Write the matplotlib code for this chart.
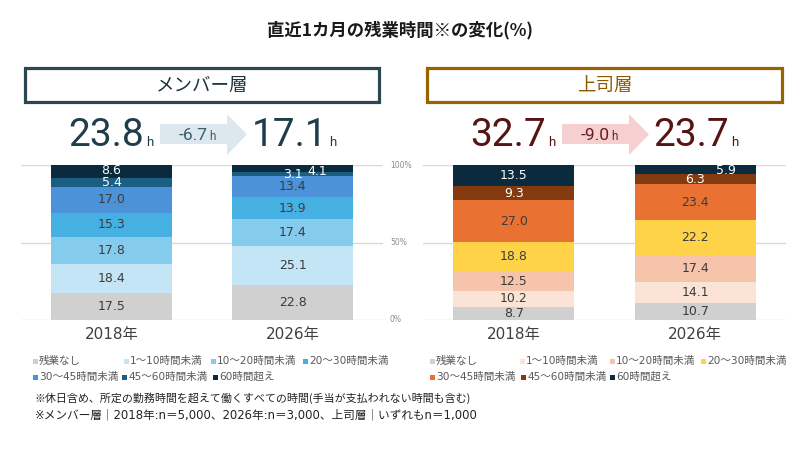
import numpy as np
import matplotlib.pyplot as plt
from matplotlib.patches import Polygon, Rectangle

plt.rcParams['font.family'] = ['Noto Sans CJK JP', 'DejaVu Sans']
WIDE = ['DejaVu Sans', 'Noto Sans CJK JP']  # wider digits, CJK falls back

## DATA
title = '直近1カ月の残業時間※の変化(%)'
years = ['2018年', '2026年']
categories = ['残業なし', '1～10時間未満', '10～20時間未満', '20～30時間未満',
              '30～45時間未満', '45～60時間未満', '60時間超え']

member_name = 'メンバー層'
member_vals = {
    '2018年': [17.5, 18.4, 17.8, 15.3, 17.0, 5.4, 8.6],
    '2026年': [22.8, 25.1, 17.4, 13.9, 13.4, 3.1, 4.1],
}
member_avg = [23.8, 17.1]
member_diff = -6.7

boss_name = '上司層'
boss_vals = {
    '2018年': [8.7, 10.2, 12.5, 18.8, 27.0, 9.3, 13.5],
    '2026年': [10.7, 14.1, 17.4, 22.2, 23.4, 6.3, 5.9],
}
boss_avg = [32.7, 23.7]
boss_diff = -9.0

pct_ticks = [0, 50, 100]
notes = ['※休日含め、所定の勤務時間を超えて働くすべての時間(手当が支払われない時間も含む)',
         '※メンバー層｜2018年:n＝5,000、2026年:n＝3,000、上司層｜いずれもn＝1,000']

## STYLE
member_colors = ['#d0d0d0', '#c4e5f5', '#84cbec', '#45b0e1', '#4b92d8', '#1a5e82', '#0c2a3d']
boss_colors = ['#d0d0d0', '#fbe3d6', '#f6c4aa', '#ffd347', '#e97132', '#843a0f', '#0c2a3d']
light_text = [False, False, False, False, False, True, True]
W, H = 800, 458


def fx(px):
    return px / W


def fy(py):
    return 1 - py / H


fig = plt.figure(figsize=(8, 4.58), dpi=100)
fig.patch.set_facecolor('white')

fig.text(fx(400), fy(30), title, ha='center', va='center', fontsize=12.5,
         fontweight='bold', color='#1a1a1a')


def panel(x0, x1, name, vals, colors, avg, diff, edge, name_col, num_col,
          arrow_col, arrow_txt, legend_x, offsets):
    # header box
    fig.patches.append(Rectangle((fx(x0 + 4), fy(101.5)), fx(x1 - x0 - 8), fy(68) - fy(101.5),
                                 transform=fig.transFigure, fill=False, edgecolor=edge, lw=2.3))
    fig.text(fx((x0 + x1) / 2), fy(86), name, ha='center', va='center', fontsize=13.3, color=name_col)

    # axes for the stacked bars
    ax = fig.add_axes([fx(x0), fy(320), fx(x1 - x0), fy(165) - fy(320)])
    xs = np.arange(len(years))
    for i, yr in enumerate(years):
        v = np.array(vals[yr])
        bottoms = np.concatenate([[0], np.cumsum(v)[:-1]])
        ax.bar(np.full(len(v), xs[i]), v, bottom=bottoms, width=0.667, color=colors, zorder=2)
        for k in range(len(v)):
            dx, dy = offsets.get((yr, k), (0, 0))
            ax.annotate(f'{v[k]:.1f}', (xs[i], bottoms[k] + v[k] / 2), xytext=(dx, dy),
                        textcoords='offset points', ha='center', va='center', fontsize=9,
                        family=WIDE, color='white' if light_text[k] else '#3c3c3c', zorder=3)
    ax.set_xlim(-0.5, 1.5)
    ax.set_ylim(0, 100)
    for t in pct_ticks:
        ax.axhline(t, color='#d9d9d9', lw=1, zorder=1)
    ax.set_yticks([])
    ax.set_xticks(xs)
    ax.set_xticklabels(years, fontsize=11, family=WIDE, color='#404040')
    ax.tick_params(axis='x', length=0, pad=5)
    for s in ax.spines.values():
        s.set_visible(False)
    ax.patch.set_alpha(0)

    # average hours and arrow
    for val, cx in zip(avg, [x0 + 123, x0 + 306]):
        fig.text(fx(cx), fy(146), f'{val:.1f}', ha='right', va='baseline', fontsize=28,
                 family='Roboto', color=num_col)
        fig.text(fx(cx + 2), fy(146), 'h', ha='left', va='baseline', fontsize=9.5,
                 family='Roboto', color=num_col)

    a0 = x0 + 139
    pts = [(a0, 124), (a0 + 67, 124), (a0 + 67, 114), (a0 + 87, 134.5),
           (a0 + 67, 155), (a0 + 67, 144), (a0, 144)]
    fig.patches.append(Polygon([(fx(px), fy(py)) for px, py in pts], closed=True,
                               transform=fig.transFigure, facecolor=arrow_col, edgecolor='none'))
    fig.text(fx(a0 + 48), fy(140.5), f'{diff:.1f}', ha='right', va='baseline', fontsize=12.5,
             family='Roboto', color=arrow_txt)
    fig.text(fx(a0 + 49), fy(140.5), 'h', ha='left', va='baseline', fontsize=8.5,
             family='Roboto', color=arrow_txt)

    # legend
    for k, lab in enumerate(categories):
        lx = legend_x[k]
        ly = 361 if k < 4 else 377
        fig.patches.append(Rectangle((fx(lx - 2), fy(ly + 2.5)), fx(4.5), fy(ly - 2) - fy(ly + 2.5),
                                     transform=fig.transFigure, facecolor=colors[k], edgecolor='none'))
        fig.text(fx(lx + 4), fy(ly), lab, ha='left', va='center', fontsize=7.6,
                 family=WIDE, color='#595959')
    return ax


panel(21, 383, member_name, member_vals, member_colors, member_avg, member_diff,
      edge='#2b4752', name_col='#1e3540', num_col='#1f3d4a', arrow_col='#dce8ed',
      arrow_txt='#3d5d6a', legend_x=[35, 126, 213, 305, 35, 124, 215],
      offsets={('2026年', 6): (18, -2), ('2018年', 6): (0, 1)})

panel(423, 786, boss_name, boss_vals, boss_colors, boss_avg, boss_diff,
      edge='#996300', name_col='#8c5a00', num_col='#561414', arrow_col='#f6cfd0',
      arrow_txt='#6b1c1c', legend_x=[432, 522, 612, 703, 432, 523, 612],
      offsets={('2026年', 6): (22, -1)})

# shared percent labels between the panels
for t in pct_ticks:
    fig.text(fx(390), fy(320 - t * 1.55), f'{t}%', ha='left', va='center', fontsize=5.5,
             family=WIDE, color='#8c8c8c')

fig.text(fx(35), fy(398), notes[0], ha='left', va='center', fontsize=7.9, color='#222222')
fig.text(fx(35), fy(415), notes[1], ha='left', va='center', fontsize=8.4, family=WIDE, color='#222222')

fig.savefig('out.png', dpi=100, facecolor='white')
